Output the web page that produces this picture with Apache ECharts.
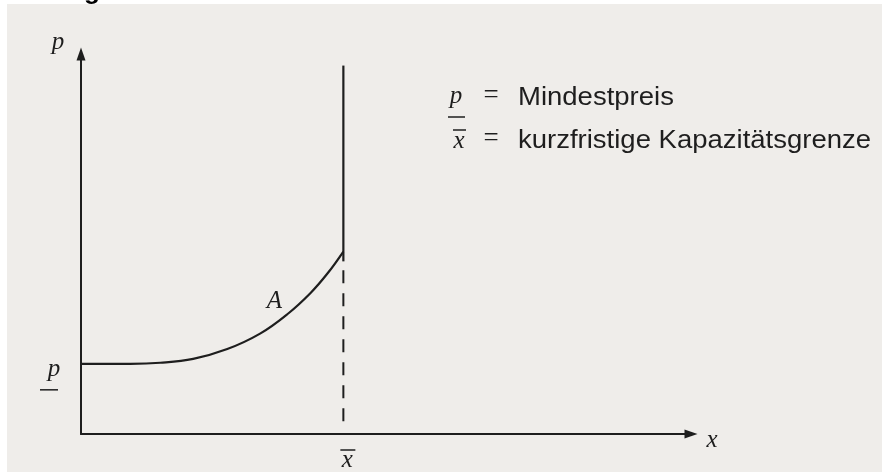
<!DOCTYPE html>
<html>
<head>
<meta charset="utf-8">
<script src="https://cdn.jsdelivr.net/npm/echarts@6/dist/echarts.min.js"></script>
<style>
  html, body { margin: 0; padding: 0; background: #ffffff; }
  #chart { width: 882px; height: 472px; }
</style>
</head>
<body>
<div id="chart"></div>
<script>
// Angebotskurve mit Mindestpreis und kurzfristiger Kapazitätsgrenze
const minPrice = 2;          // p (Mindestpreis)
const capacity = 4;          // x̄ (kurzfristige Kapazitätsgrenze)
const capacityTop = 10.5;    // oberes Ende der senkrechten Kapazitätslinie
const curveX = [0, 0.75, 1.21, 1.71, 2.23, 2.73, 3.15, 3.50, 3.76, 4.0];
const curveY = [2.0, 2.0, 2.03, 2.14, 2.42, 2.86, 3.42, 4.02, 4.58, 5.2];
const curveLabel = 'A';
const curveLabelAt = [2.95, 3.78];
const axisNames = { x: 'x', y: 'p' };
const legendLines = [
  { sym: 'p', mark: 'under', text: 'Mindestpreis' },
  { sym: 'x', mark: 'over', text: 'kurzfristige Kapazitätsgrenze' }
];

const ink = '#1e1e1e';
const paper = '#efedea';
const serif = '"Liberation Serif", "DejaVu Serif", serif';
const sans = '"Liberation Sans", Arial, sans-serif';

const chart = echarts.init(document.getElementById('chart'), null, { renderer: 'canvas' });

const curveData = curveX.map((x, i) => [x, curveY[i]]);
const capEnd = curveY[curveY.length - 1];

chart.setOption({
  animation: false,
  backgroundColor: '#ffffff',
  grid: { left: 81, right: 191, top: 54, bottom: 38 },
  xAxis: {
    type: 'value', min: 0, max: 9.3,
    axisLine: { show: true, onZero: false, symbol: ['none', 'triangle'], symbolSize: [9, 13],
      lineStyle: { color: ink, width: 2 } },
    axisTick: { show: false }, axisLabel: { show: false }, splitLine: { show: false }
  },
  yAxis: {
    type: 'value', min: 0, max: 10.83,
    axisLine: { show: true, onZero: false, symbol: ['none', 'triangle'], symbolSize: [9, 13],
      lineStyle: { color: ink, width: 2 } },
    axisTick: { show: false }, axisLabel: { show: false }, splitLine: { show: false }
  },
  series: [
    {
      type: 'line', data: curveData, smooth: 0.4, showSymbol: false, z: 3,
      lineStyle: { color: ink, width: 2.2 }
    },
    {
      type: 'line', data: [[capacity, capacityTop], [capacity, capEnd - 0.28]], showSymbol: false,
      lineStyle: { color: ink, width: 2.2 }
    },
    {
      type: 'line', data: [[capacity, capEnd - 0.53], [capacity, 0.1]], showSymbol: false,
      lineStyle: { color: ink, width: 2, type: [13, 10] }
    }
  ]
});

// Beschriftungen an den Koordinaten des Diagramms
function px(pt) { return chart.convertToPixel({ gridIndex: 0 }, pt); }
const origin = px([0, 0]);
const pMinPx = px([0, minPrice]);
const capPx = px([capacity, 0]);
const aPx = px(curveLabelAt);

function mathText(x, y, s, size) {
  return { type: 'text', x: x, y: y, z: 10,
    style: { text: s, font: 'italic ' + (size || 25) + 'px ' + serif, fill: ink,
      align: 'center', verticalAlign: 'middle' } };
}
function bar(x1, x2, y) {
  return { type: 'line', z: 10, shape: { x1: x1, y1: y, x2: x2, y2: y },
    style: { stroke: ink, lineWidth: 1.5 } };
}

const g = [
  // Papierfläche
  { type: 'rect', z: -10, shape: { x: 7, y: 4, width: 875, height: 468 }, style: { fill: paper } },
  { type: 'text', x: 84, y: -21, z: 10, style: { text: 'g', font: 'bold 26px ' + sans, fill: '#000' } },
  // Achsenbezeichnungen
  mathText(origin[0] - 23, 42, axisNames.y),
  mathText(712, origin[1] + 6, axisNames.x),
  // Mindestpreis an der Ordinate
  mathText(pMinPx[0] - 27, pMinPx[1] + 6, 'p'),
  bar(pMinPx[0] - 41, pMinPx[0] - 23, pMinPx[1] + 26),
  // Kapazitätsgrenze an der Abszisse
  mathText(capPx[0] + 4, capPx[1] + 26, 'x'),
  bar(capPx[0] - 3, capPx[0] + 12, capPx[1] + 16),
  // Kurvenbezeichnung
  mathText(aPx[0], aPx[1], curveLabel)
];

// Legende rechts oben
legendLines.forEach((l, i) => {
  const y = 98 + i * 43;
  const sx = i === 0 ? 456 : 459;
  g.push(mathText(sx, y - 2 + i * 2, l.sym));
  if (l.mark === 'under') g.push(bar(448, 465, y + 19));
  else g.push(bar(453, 466, y - 11));
  g.push({ type: 'text', x: 491, y: y - 2, z: 10,
    style: { text: '=', font: '27px ' + serif, fill: ink, align: 'center', verticalAlign: 'middle' } });
  g.push({ type: 'text', x: 518, y: y, z: 10, scaleX: 1.1, originX: 0, originY: 0,
    style: { text: l.text, font: '25px ' + sans, fill: ink, align: 'left', verticalAlign: 'middle' } });
});

chart.setOption({ graphic: g });
</script>
</body>
</html>
